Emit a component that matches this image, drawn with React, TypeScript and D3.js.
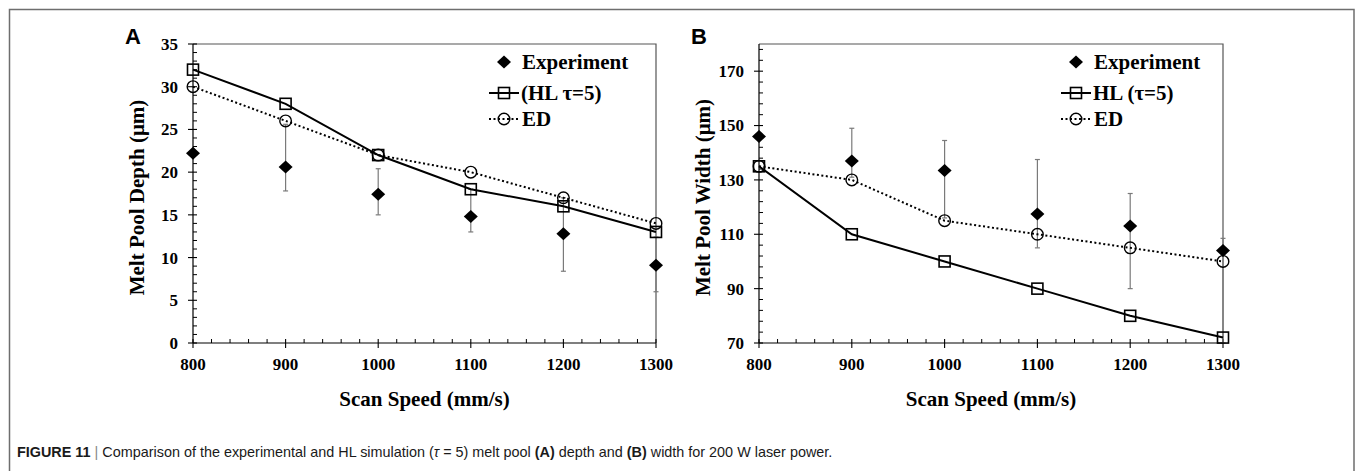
import React from "react";
import * as d3 from "d3";

// scan speeds (mm/s)
const speeds = [800, 900, 1000, 1100, 1200, 1300];

// panel A: melt pool depth (µm)
const depthExp = [22.2, 20.6, 17.4, 14.8, 12.8, 9.1];
const depthExpLow = [null, 17.8, 15.0, 13.0, 8.4, 6.0];
const depthExpHigh = [null, 25.6, 20.4, 18.0, 17.0, 12.4];
const depthHL = [32, 28, 22, 18, 16, 13];
const depthED = [30, 26, 22, 20, 17, 14];

// panel B: melt pool width (µm)
const widthExp = [146, 137, 133.5, 117.5, 113, 104];
const widthExpLow = [null, 131, 116, 105, 90, 70];
const widthExpHigh = [null, 149, 144.5, 137.5, 125, 108.5];
const widthHL = [135, 110, 100, 90, 80, 72];
const widthED = [135, 130, 115, 110, 105, 100];

const serif = "'Liberation Serif', 'Times New Roman', serif";
const sans = "'Liberation Sans', Arial, Helvetica, sans-serif";

type PanelProps = {
  letter: string;
  x0: number;
  x1: number;
  yDomain: [number, number];
  yMajor: number;
  yMinor: number;
  yTitle: string;
  exp: number[];
  low: (number | null)[];
  high: (number | null)[];
  hl: number[];
  ed: number[];
  hlLabel: string;
  legendX: number;
};

const top = 44;
const bottom = 343;

function Diamond({ x, y }: { x: number; y: number }) {
  return <path d={`M${x},${y - 6.5}L${x + 7},${y}L${x},${y + 6.5}L${x - 7},${y}Z`} fill="#000" />;
}

function Square({ x, y }: { x: number; y: number }) {
  return <rect x={x - 5.5} y={y - 5.5} width={11} height={11} fill="none" stroke="#000" strokeWidth={1.6} />;
}

function Circle({ x, y }: { x: number; y: number }) {
  return <circle cx={x} cy={y} r={5.8} fill="none" stroke="#000" strokeWidth={1.4} />;
}

function Panel(p: PanelProps) {
  const x = d3.scaleLinear().domain([800, 1300]).range([p.x0, p.x1]);
  const y = d3.scaleLinear().domain(p.yDomain).range([bottom, top]);
  const xMajor = d3.range(800, 1301, 100);
  const xMinor = d3.range(800, 1301, 20).filter((v) => v % 100 !== 0);
  const yMaj = d3.range(p.yDomain[0], p.yDomain[1] + 0.001, p.yMajor);
  const yMin = d3
    .range(p.yDomain[0], p.yDomain[1] + 0.001, p.yMinor)
    .filter((v) => (v - p.yDomain[0]) % p.yMajor !== 0);

  const line = d3
    .line<number>()
    .x((_, i) => x(speeds[i]))
    .y((d) => y(d));

  const lx = p.legendX;

  return (
    <g>
      <text x={p.x0 - 68} y={44} fontFamily={sans} fontWeight="bold" fontSize={22}>
        {p.letter}
      </text>
      {/* frame */}
      <path d={`M${p.x0},${top}H${p.x1}V${bottom}`} fill="none" stroke="#555" strokeWidth={1.2} />
      <line x1={p.x0} x2={p.x0} y1={top} y2={bottom} stroke="#000" strokeWidth={1.2} />
      <line x1={p.x0} x2={p.x1} y1={bottom} y2={bottom} stroke="#000" strokeWidth={1.2} />
      {/* y ticks */}
      {yMaj.map((v) => (
        <g key={"ym" + v}>
          <line x1={p.x0 - 5} x2={p.x0 + 4} y1={y(v)} y2={y(v)} stroke="#000" strokeWidth={1.1} />
          <text
            x={p.x0 - 15}
            y={y(v)}
            dy="0.35em"
            textAnchor="end"
            fontFamily={serif}
            fontWeight="bold"
            fontSize={17}
          >
            {v}
          </text>
        </g>
      ))}
      {yMin.map((v) => (
        <line key={"yn" + v} x1={p.x0} x2={p.x0 + 4} y1={y(v)} y2={y(v)} stroke="#000" strokeWidth={1} />
      ))}
      {/* x ticks */}
      {xMajor.map((v) => (
        <g key={"xm" + v}>
          <line x1={x(v)} x2={x(v)} y1={bottom - 4} y2={bottom + 5} stroke="#000" strokeWidth={1.1} />
          <text x={x(v)} y={370} textAnchor="middle" fontFamily={serif} fontWeight="bold" fontSize={17}>
            {v}
          </text>
        </g>
      ))}
      {xMinor.map((v) => (
        <line key={"xn" + v} x1={x(v)} x2={x(v)} y1={bottom - 4} y2={bottom} stroke="#000" strokeWidth={1} />
      ))}
      {/* axis titles */}
      <text
        x={(p.x0 + p.x1) / 2}
        y={406}
        textAnchor="middle"
        fontFamily={serif}
        fontWeight="bold"
        fontSize={21}
      >
        Scan Speed (mm/s)
      </text>
      <text
        transform={`translate(${p.x0 - 49},${(top + bottom) / 2 + 4}) rotate(-90)`}
        textAnchor="middle"
        fontFamily={serif}
        fontWeight="bold"
        fontSize={21}
      >
        {p.yTitle}
      </text>
      {/* error bars */}
      {speeds.map((s, i) => {
        const lo = p.low[i];
        const hi = p.high[i];
        if (lo == null || hi == null) return null;
        const cx = x(s);
        return (
          <g key={"e" + s} stroke="#7a7a7a" strokeWidth={1.2}>
            <line x1={cx} x2={cx} y1={y(lo)} y2={y(hi)} />
            <line x1={cx - 2.5} x2={cx + 2.5} y1={y(lo)} y2={y(lo)} />
            <line x1={cx - 2.5} x2={cx + 2.5} y1={y(hi)} y2={y(hi)} />
          </g>
        );
      })}
      {/* lines */}
      <path d={line(p.hl) || ""} fill="none" stroke="#000" strokeWidth={2} />
      <path d={line(p.ed) || ""} fill="none" stroke="#000" strokeWidth={2} strokeDasharray="2,2.5" />
      {p.hl.map((v, i) => (
        <Square key={"s" + i} x={x(speeds[i])} y={y(v)} />
      ))}
      {p.ed.map((v, i) => (
        <Circle key={"c" + i} x={x(speeds[i])} y={y(v)} />
      ))}
      {p.exp.map((v, i) => (
        <Diamond key={"d" + i} x={x(speeds[i])} y={y(v)} />
      ))}
      {/* legend */}
      <g fontFamily={serif} fontWeight="bold" fontSize={21}>
        <Diamond x={lx} y={62} />
        <text x={lx + 18} y={69}>
          Experiment
        </text>
        <line x1={lx - 15} x2={lx + 15} y1={93} y2={93} stroke="#000" strokeWidth={2} />
        <Square x={lx} y={93} />
        <text x={lx + 17} y={100}>
          {p.hlLabel}
        </text>
        <line x1={lx - 15} x2={lx + 15} y1={119} y2={119} stroke="#000" strokeWidth={2} strokeDasharray="2,2.5" />
        <Circle x={lx} y={119} />
        <text x={lx + 18} y={126}>
          ED
        </text>
      </g>
    </g>
  );
}

export default function App() {
  return (
    <svg
      width={1355}
      height={471}
      style={{ position: "absolute", left: 0, top: 0, background: "#fff" }}
    >
      <rect width={1355} height={471} fill="#fff" />
      <path d="M9.5,480V9.5H1354V480" fill="none" stroke="#6e6e6e" strokeWidth={1.5} />
      <Panel
        letter="A"
        x0={193}
        x1={656}
        yDomain={[0, 35]}
        yMajor={5}
        yMinor={1}
        yTitle="Melt Pool Depth (μm)"
        exp={depthExp}
        low={depthExpLow}
        high={depthExpHigh}
        hl={depthHL}
        ed={depthED}
        hlLabel="(HL τ=5)"
        legendX={504}
      />
      <Panel
        letter="B"
        x0={759}
        x1={1223}
        yDomain={[70, 180]}
        yMajor={20}
        yMinor={4}
        yTitle="Melt Pool Width (μm)"
        exp={widthExp}
        low={widthExpLow}
        high={widthExpHigh}
        hl={widthHL}
        ed={widthED}
        hlLabel="HL (τ=5)"
        legendX={1076}
      />
      <text x={17} y={457} fontFamily={sans} fontSize={14.4} fill="#1a1a1a">
        <tspan fontWeight="bold">FIGURE 11</tspan>
        <tspan fill="#888"> | </tspan>
        <tspan>Comparison of the experimental and HL simulation (</tspan>
        <tspan fontStyle="italic">τ</tspan>
        <tspan> = 5) melt pool </tspan>
        <tspan fontWeight="bold">(A)</tspan>
        <tspan> depth and </tspan>
        <tspan fontWeight="bold">(B)</tspan>
        <tspan> width for 200 W laser power.</tspan>
      </text>
    </svg>
  );
}
